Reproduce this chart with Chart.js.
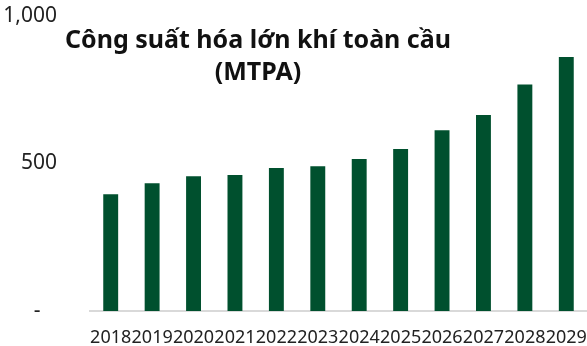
<!DOCTYPE html>
<html>
<head>
<meta charset="utf-8">
<script src="https://cdn.jsdelivr.net/npm/chart.js@4"></script>
<style>
  body { margin: 0; background: #fff; }
  #wrap { width: 587px; height: 346px; position: relative; }
</style>
</head>
<body>
<div id="wrap"><canvas id="lngChart"></canvas></div>
<script>
const years = ["2018", "2019", "2020", "2021", "2022", "2023", "2024", "2025", "2026", "2027", "2028", "2029"];
const capacity = [396, 433, 457, 461, 485, 491, 515, 549, 613, 664, 768, 861];
const yTicks = [0, 500, 1000];
const titleLines = ["Công suất hóa lớn khí toàn cầu", "(MTPA)"];

const FONT = "'Noto Sans', sans-serif";
const GREEN = "#00502e";

// title sits over the plot, left of the tall bars
const overlayTitle = {
  id: "overlayTitle",
  afterDraw(chart) {
    const ctx = chart.ctx;
    ctx.save();
    ctx.fillStyle = "#111";
    ctx.font = "bold 25px " + FONT;
    ctx.textAlign = "center";
    ctx.textBaseline = "middle";
    ctx.fillText(titleLines[0], 258, 41);
    ctx.fillText(titleLines[1], 258, 73);
    ctx.restore();
  }
};

const ctx = document.getElementById("lngChart").getContext("2d");
new Chart(ctx, {
  type: "bar",
  data: {
    labels: years,
    datasets: [{
      data: capacity,
      backgroundColor: GREEN,
      categoryPercentage: 1,
      barPercentage: 0.36
    }]
  },
  options: {
    responsive: true,
    maintainAspectRatio: false,
    animation: false,
    layout: { padding: { top: 16, left: 0, right: 0, bottom: 0 } },
    plugins: {
      legend: { display: false },
      tooltip: { enabled: false }
    },
    scales: {
      x: {
        grid: { display: false, drawTicks: false },
        border: { display: true, color: "#d9d9d9", width: 2 },
        ticks: {
          color: "#222",
          font: { family: FONT, size: 18 },
          padding: 16,
          autoSkip: false,
          maxRotation: 0,
          minRotation: 0
        },
        afterFit(scale) {
          scale.height = 35;
          scale.paddingLeft = 0;
          scale.paddingRight = 0;
        }
      },
      y: {
        min: 0,
        max: 1000,
        grid: { display: false, drawTicks: false },
        border: { display: false },
        afterBuildTicks(scale) { scale.ticks = yTicks.map(v => ({ value: v })); },
        ticks: {
          color: "#222",
          font: { family: FONT, size: 21 },
          padding: 33,
          callback: v => v === 0 ? "-   " : v.toLocaleString("en-US")
        },
        afterFit(scale) {
          scale.width = 90;
          scale.paddingTop = 0;
          scale.paddingBottom = 0;
        }
      }
    }
  },
  plugins: [overlayTitle]
});
</script>
</body>
</html>
